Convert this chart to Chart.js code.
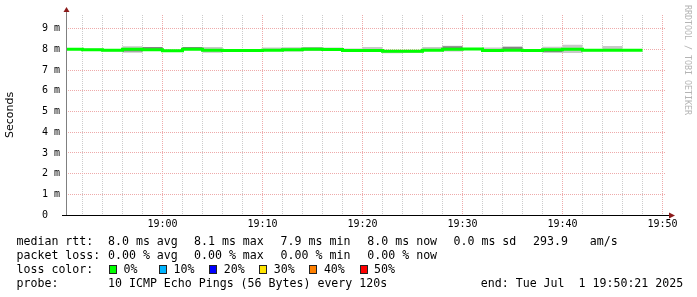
<!DOCTYPE html>
<html>
<head>
<meta charset="utf-8">
<script src="https://cdn.jsdelivr.net/npm/chart.js@4/dist/chart.umd.min.js"></script>
<style>
  html, body { margin: 0; padding: 0; background: #fff; }
  #wrap { position: relative; width: 697px; height: 297px; overflow: hidden; background: #fff; }
  #grafico { position: absolute; left: 0; top: 0; }
  .leg { position: absolute; font-family: 'DejaVu Sans Mono', monospace; font-size: 11.6px; line-height: 14px; color: #000; white-space: pre; }
  .box { position: absolute; width: 6px; height: 7px; border: 1px solid #222; }
  #marca { position: absolute; left: 683px; top: 5px; font-family: 'DejaVu Sans Mono', monospace; font-size: 8.3px; color: #b4b4b4; writing-mode: vertical-rl; white-space: pre; }
</style>
</head>
<body>
<div id="wrap">
  <canvas id="grafico" width="697" height="297"></canvas>
  <div id="marca">RRDTOOL / TOBI OETIKER</div>
  <div id="legenda"></div>
</div>
<script>
// ==================== DADOS ====================
// fim de cada intervalo de 2 min (valor vale para (t-2min, t])
const times = ['18:52','18:54','18:56','18:58','19:00','19:02','19:04','19:06','19:08','19:10',
               '19:12','19:14','19:16','19:18','19:20','19:22','19:24','19:26','19:28','19:30',
               '19:32','19:34','19:36','19:38','19:40','19:42','19:44','19:46','19:48'];

// mediana (ms)
const medianRtt = [8.01, 7.99, 7.96, 8.01, 7.99, 7.94, 8.02, 7.97, 7.95, 7.95,
                   7.97, 7.99, 8.01, 8.00, 7.95, 7.95, 7.92, 7.92, 7.96, 8.01,
                   8.03, 7.95, 7.97, 7.95, 7.99, 8.01, 7.97, 7.97, 7.97];

// fumaça externa (cinza claro) min / max
const smokeLo = [7.98, 7.96, 7.90, 7.84, 7.95, 7.92, 7.98, 7.84, 7.93, 7.90,
                 7.94, 7.91, 7.93, 7.96, 7.92, 7.93, 7.82, 7.83, 7.93, 7.90,
                 8.00, 7.93, 7.94, 7.93, 7.86, 7.83, 7.92, 7.94, 7.95];
const smokeHi = [8.03, 8.05, 7.98, 8.16, 8.12, 7.99, 8.12, 8.12, 7.98, 7.97,
                 8.10, 8.11, 8.11, 8.10, 8.05, 8.12, 7.95, 7.96, 8.12, 8.18,
                 8.05, 8.10, 8.14, 7.97, 8.14, 8.23, 7.99, 8.17, 7.99];

// fumaça interna (cinza escuro)
const coreLo = [8.00, 7.98, 7.95, 7.90, 7.97, 7.93, 7.99, 7.96, 7.94, 7.90,
                7.96, 7.98, 7.99, 7.99, 7.94, 7.94, 7.91, 7.91, 7.95, 7.99,
                8.02, 7.94, 7.96, 7.94, 7.87, 7.99, 7.96, 7.96, 7.96];
const coreHi = [8.02, 8.00, 7.97, 8.02, 8.12, 7.95, 8.12, 7.98, 7.96, 7.96,
                7.98, 8.00, 8.10, 8.01, 7.96, 7.96, 7.93, 7.93, 7.97, 8.16,
                8.04, 7.96, 8.14, 7.96, 8.00, 8.03, 7.98, 7.98, 7.98];

// rótulos dos eixos
const xTickLabels = ['19:00', '19:10', '19:20', '19:30', '19:40', '19:50'];
const yTickLabels = ['0  ', '1 m', '2 m', '3 m', '4 m', '5 m', '6 m', '7 m', '8 m', '9 m'];

// legenda
const lossColors = ['#00ff00', '#00b4ff', '#0000ff', '#ffe400', '#ff8000', '#ff0000'];
const lossLabels = ['0%', '10%', '20%', '30%', '40%', '50%'];

// ==================== HELPERS ====================
function paraMinutos(hhmm) {
    const [h, m] = hhmm.split(':').map(Number);
    return (h - 18) * 60 + m;
}

// primeiro ponto repete o primeiro valor no início do intervalo (degrau 'after')
function serie(valores) {
    const pts = times.map((t, i) => ({ x: paraMinutos(t), y: valores[i] }));
    pts.unshift({ x: pts[0].x - 2, y: valores[0] });
    return pts;
}

const inicio = 50 + 21 / 60;   // 18:50:21
const fim = 110 + 21 / 60;     // 19:50:21

const gradeX = [];
for (let m = 52; m <= 110; m += 2) gradeX.push(m);
const gradeY = [];
for (let v = 0; v <= 9.5; v += 0.5) gradeY.push(v);

const corMaior = '#eeaaaa';
const corMenor = '#cccccc';

// eixos com setas, no estilo rrdtool
const eixosPlugin = {
    id: 'eixos',
    afterDatasetsDraw(chart) {
        const { ctx, chartArea: a } = chart;
        ctx.save();
        ctx.lineWidth = 1;
        ctx.strokeStyle = '#808080';
        ctx.beginPath();
        ctx.moveTo(a.left + 0.5, a.bottom);
        ctx.lineTo(a.left + 0.5, a.top - 3);
        ctx.stroke();
        ctx.strokeStyle = '#000';
        ctx.beginPath();
        ctx.moveTo(a.left - 4, a.bottom + 0.5);
        ctx.lineTo(a.right + 4, a.bottom + 0.5);
        ctx.stroke();
        ctx.fillStyle = '#8b1a1a';
        ctx.beginPath();
        ctx.moveTo(a.left - 2.5, a.top - 3);
        ctx.lineTo(a.left + 3.5, a.top - 3);
        ctx.lineTo(a.left + 0.5, a.top - 8);
        ctx.closePath();
        ctx.fill();
        ctx.beginPath();
        ctx.moveTo(a.right + 3, a.bottom - 2.5);
        ctx.lineTo(a.right + 3, a.bottom + 3.5);
        ctx.lineTo(a.right + 9, a.bottom + 0.5);
        ctx.closePath();
        ctx.fill();
        ctx.restore();
    }
};

const linhaBase = { pointRadius: 0, stepped: 'after', borderColor: 'transparent', borderWidth: 0 };

new Chart(document.getElementById('grafico'), {
    type: 'line',
    data: {
        datasets: [
            { ...linhaBase, data: serie(smokeLo), fill: false, order: 3 },
            { ...linhaBase, data: serie(smokeHi), fill: '-1', backgroundColor: '#c8c8c8', order: 3 },
            { ...linhaBase, data: serie(coreLo), fill: false, order: 2 },
            { ...linhaBase, data: serie(coreHi), fill: '-1', backgroundColor: '#858585', order: 2 },
            {
                data: serie(medianRtt),
                stepped: 'after',
                pointRadius: 0,
                borderColor: lossColors[0],
                borderWidth: 3,
                fill: false,
                order: 0
            }
        ]
    },
    options: {
        responsive: false,
        animation: false,
        events: [],
        layout: { padding: { top: 15, right: 31, left: 0, bottom: 0 } },
        plugins: { legend: { display: false }, tooltip: { enabled: false } },
        scales: {
            x: {
                type: 'linear',
                min: inicio,
                max: fim,
                afterBuildTicks: axis => { axis.ticks = gradeX.map(v => ({ value: v })); },
                afterFit: s => { s.height = 82; },
                border: { display: false, dash: [1, 1] },
                grid: {
                    drawTicks: false,
                    lineWidth: 1,
                    color: c => (c.tick && c.tick.value % 10 === 0) ? corMaior : corMenor
                },
                ticks: {
                    autoSkip: false,
                    maxRotation: 0,
                    minRotation: 0,
                    padding: 3,
                    color: '#000',
                    font: { family: "'DejaVu Sans Mono'", size: 10 },
                    callback: v => v % 10 === 0 ? xTickLabels[(v - 60) / 10] : ''
                }
            },
            y: {
                min: 0,
                max: 9.67,
                afterBuildTicks: axis => { axis.ticks = gradeY.map(v => ({ value: v })); },
                afterFit: s => { s.width = 66; },
                border: { display: false, dash: [1, 1] },
                grid: {
                    drawTicks: false,
                    lineWidth: 1,
                    color: c => (c.tick && Number.isInteger(c.tick.value) && c.tick.value > 0) ? corMaior : corMenor
                },
                ticks: {
                    padding: 6,
                    color: '#000',
                    font: { family: "'DejaVu Sans Mono'", size: 10 },
                    callback: v => Number.isInteger(v) ? yTickLabels[v] : ''
                },
                title: {
                    display: true,
                    text: 'Seconds',
                    color: '#000',
                    padding: { top: 4, bottom: 0 },
                    font: { family: "'DejaVu Sans'", size: 11 }
                }
            }
        }
    },
    plugins: [eixosPlugin]
});

// ==================== LEGENDA (texto rrdtool) ====================
const linhas = [234, 248, 262, 276];
const textos = [
    [16.5, 0, 'median rtt:'], [108, 0, '8.0 ms avg'], [194, 0, '8.1 ms max'], [280.6, 0, '7.9 ms min'],
    [367.3, 0, '8.0 ms now'], [453.5, 0, '0.0 ms sd'], [533, 0, '293.9'], [589.8, 0, 'am/s'],
    [16.5, 1, 'packet loss:'], [108, 1, '0.00 % avg'], [194, 1, '0.00 % max'], [280.6, 1, '0.00 % min'],
    [367.3, 1, '0.00 % now'],
    [16.5, 2, 'loss color:'],
    [16.5, 3, 'probe:'], [108, 3, '10 ICMP Echo Pings (56 Bytes) every 120s'],
    [480.8, 3, 'end: Tue Jul  1 19:50:21 2025']
];
const legenda = document.getElementById('legenda');
textos.forEach(([x, l, t]) => {
    const d = document.createElement('div');
    d.className = 'leg';
    d.style.left = x + 'px';
    d.style.top = linhas[l] + 'px';
    d.textContent = t;
    legenda.appendChild(d);
});
lossColors.forEach((cor, i) => {
    const x = 109 + i * 50.1;
    const b = document.createElement('div');
    b.className = 'box';
    b.style.left = x + 'px';
    b.style.top = '265px';
    b.style.background = cor;
    legenda.appendChild(b);
    const d = document.createElement('div');
    d.className = 'leg';
    d.style.left = (x + 14.5) + 'px';
    d.style.top = linhas[2] + 'px';
    d.textContent = lossLabels[i];
    legenda.appendChild(d);
});
</script>
</body>
</html>
